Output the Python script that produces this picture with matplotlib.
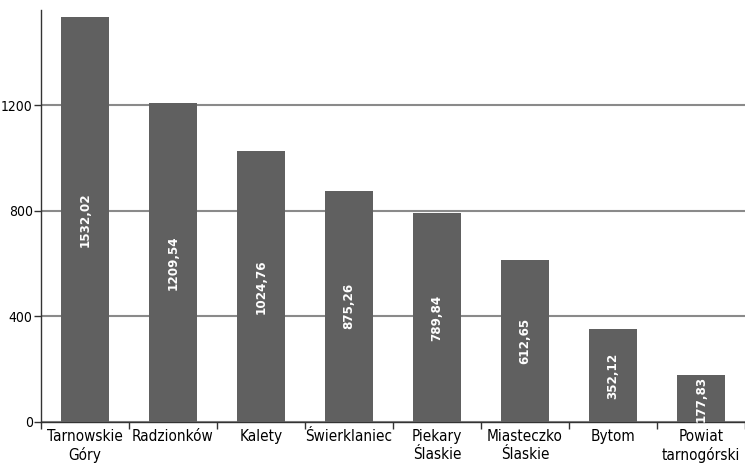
import matplotlib.pyplot as plt
import numpy as np

# data
categories = ['Tarnowskie\nGóry', 'Radzionków', 'Kalety', 'Świerklaniec',
              'Piekary\nŚlaskie', 'Miasteczko\nŚlaskie', 'Bytom', 'Powiat\ntarnogórski']
values = [1532.02, 1209.54, 1024.76, 875.26, 789.84, 612.65, 352.12, 177.83]
labels = ['1532,02', '1209,54', '1024,76', '875,26', '789,84', '612,65', '352,12', '177,83']
yticks = [0, 400, 800, 1200]

plt.rcParams['font.family'] = ['DejaVu Sans']
plt.rcParams['font.stretch'] = 'condensed'

fig = plt.figure(figsize=(7.45, 4.65), dpi=100)
ax = fig.add_axes([0.055, 0.0925, 0.945, 0.886])

x = np.arange(len(values))
ax.bar(x, values, width=0.556, color='#606060', zorder=3)

# value labels inside bars
for xi, v, lab in zip(x, values, labels):
    ax.text(xi, v / 2, lab, rotation=90, ha='center', va='center',
            color='white', fontsize=9.5, fontweight='semibold', zorder=4)

ax.set_xlim(-0.5, len(values) - 0.5)
ax.set_ylim(0, 1560)
ax.set_yticks(yticks)
ax.set_yticklabels([str(t) for t in yticks], fontsize=10)
ax.yaxis.grid(True, color='#8a8a8a', linewidth=1.5, zorder=0)
ax.tick_params(axis='y', length=5, width=1, color='#333333', pad=1)

ax.set_xticks(x)
ax.set_xticklabels(categories, fontsize=11, linespacing=1.25)
ax.tick_params(axis='x', which='major', length=0, pad=5)
ax.set_xticks(np.arange(-0.5, len(values)), minor=True)
ax.tick_params(axis='x', which='minor', length=5, width=1, color='#333333')

for s in ['top', 'right']:
    ax.spines[s].set_visible(False)
for s in ['left', 'bottom']:
    ax.spines[s].set_color('#333333')
    ax.spines[s].set_linewidth(1)

fig.savefig('out.png', dpi=100)
